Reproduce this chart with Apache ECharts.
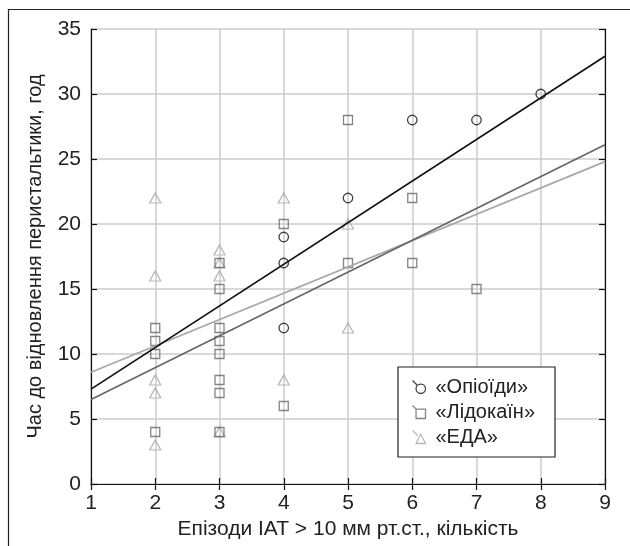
<!DOCTYPE html>
<html>
<head>
<meta charset="utf-8">
<script src="https://cdn.jsdelivr.net/npm/echarts@6/dist/echarts.min.js"></script>
<style>
  html, body { margin: 0; padding: 0; background: #fff; }
  #chart { width: 630px; height: 546px; }
</style>
</head>
<body>
<div id="chart"></div>
<script>
// points as [episodes, hours]
const opioidPoints = [[4, 19], [4, 17], [4, 12], [5, 22], [6, 28], [7, 28], [8, 30]]
const lidocainePoints = [
  [2, 12], [2, 11], [2, 10], [2, 4],
  [3, 17], [3, 15], [3, 12], [3, 11], [3, 10], [3, 8], [3, 7], [3, 4],
  [4, 20], [4, 6], [5, 28], [5, 17], [6, 22], [6, 17], [7, 15]
]
const edaPoints = [
  [2, 22], [2, 16], [2, 8], [2, 7], [2, 3],
  [3, 18], [3, 17], [3, 16], [3, 4],
  [4, 22], [4, 8], [5, 20], [5, 12]
]

// fitted lines read at the ends of the x range
const fitX = [1, 9]
const opioidFit = [7.3, 32.9]
const lidocaineFit = [6.5, 26.1]
const edaFit = [8.6, 24.8]

const seriesNames = ['«Опіоїди»', '«Лідокаїн»', '«ЕДА»']
const xTitle = 'Епізоди ІАТ > 10 мм рт.ст., кількість'
const yTitle = 'Час до відновлення перистальтики, год'

const font = '"Liberation Sans", Arial, sans-serif'
const black = '#111111'
const darkGray = '#666666'
const lightGray = '#a8a8a8'

const chart = echarts.init(document.getElementById('chart'))

const toLine = (ys) => fitX.map((x, i) => [x, ys[i]])

const baseAxis = {
  axisLine: { lineStyle: { color: black, width: 1.2 } },
  axisTick: { inside: true, length: 6, lineStyle: { color: black, width: 1.2 } }
}

const scatterStyle = (color) => ({ color: 'rgba(0,0,0,0)', borderColor: color, borderWidth: 1.3 })

chart.setOption({
  animation: false,
  textStyle: { fontFamily: font },
  graphic: [
    {
      type: 'rect',
      shape: { x: 8.5, y: 9.5, width: 700, height: 700 },
      style: { fill: 'none', stroke: '#222', lineWidth: 1.2 },
      silent: true,
      z: -10
    }
  ],
  grid: { left: 91, right: 25, top: 29, bottom: 62 },
  xAxis: [
    {
      ...baseAxis,
      type: 'value',
      min: 1,
      max: 9,
      interval: 1,
      name: xTitle,
      nameLocation: 'middle',
      nameGap: 28,
      nameTextStyle: { fontSize: 21, color: '#222', fontFamily: font },
      axisLabel: { fontSize: 21, color: '#222', margin: 9, fontFamily: font },
      splitLine: { show: true, lineStyle: { color: '#cccccc', width: 1.5 } }
    },
    {
      ...baseAxis,
      type: 'value',
      position: 'top',
      min: 1,
      max: 9,
      interval: 1,
      axisLabel: { show: false },
      splitLine: { show: false }
    }
  ],
  yAxis: [
    {
      ...baseAxis,
      type: 'value',
      min: 0,
      max: 35,
      interval: 5,
      name: yTitle,
      nameLocation: 'middle',
      nameGap: 46,
      nameTextStyle: { fontSize: 20, color: '#222', fontFamily: font },
      axisLabel: { fontSize: 21, color: '#222', margin: 10, fontFamily: font },
      splitLine: { show: true, lineStyle: { color: '#cccccc', width: 1.5 } }
    },
    {
      ...baseAxis,
      type: 'value',
      position: 'right',
      min: 0,
      max: 35,
      interval: 5,
      axisLabel: { show: false },
      splitLine: { show: false }
    }
  ],
  legend: {
    orient: 'vertical',
    left: 398,
    top: 367,
    backgroundColor: '#fff',
    borderColor: '#222',
    borderWidth: 1.2,
    borderRadius: 0,
    padding: [10, 20, 10, 12],
    itemGap: 5,
    itemWidth: 13,
    itemHeight: 13,
    textStyle: { fontSize: 20, color: '#222', fontFamily: font, lineHeight: 20, padding: [0, 0, 0, 5] },
    data: [
      {
        name: seriesNames[0],
        icon: 'path://M0,0L4.2,4.2M11,7A4,4,0,1,1,3,7A4,4,0,1,1,11,7Z',
        itemStyle: { color: 'none', borderColor: black, borderWidth: 1.3 }
      },
      {
        name: seriesNames[1],
        icon: 'path://M0,0L3,3M3,3L11,3L11,11L3,11Z',
        itemStyle: { color: 'none', borderColor: darkGray, borderWidth: 1.3 }
      },
      {
        name: seriesNames[2],
        icon: 'path://M0,0L4.5,4.5M7,3L11,11L3,11Z',
        itemStyle: { color: 'none', borderColor: lightGray, borderWidth: 1.3 }
      }
    ]
  },
  series: [
    {
      name: seriesNames[2],
      type: 'scatter',
      symbol: 'triangle',
      symbolSize: [11, 10],
      itemStyle: scatterStyle(lightGray),
      data: edaPoints
    },
    {
      name: seriesNames[1],
      type: 'scatter',
      symbol: 'rect',
      symbolSize: 9,
      itemStyle: scatterStyle(darkGray),
      data: lidocainePoints
    },
    {
      name: seriesNames[0],
      type: 'scatter',
      symbol: 'circle',
      symbolSize: 9.5,
      itemStyle: scatterStyle(black),
      data: opioidPoints
    },
    {
      name: 'edaFit',
      type: 'line',
      symbol: 'none',
      lineStyle: { color: lightGray, width: 1.7 },
      data: toLine(edaFit)
    },
    {
      name: 'lidocaineFit',
      type: 'line',
      symbol: 'none',
      lineStyle: { color: darkGray, width: 1.7 },
      data: toLine(lidocaineFit)
    },
    {
      name: 'opioidFit',
      type: 'line',
      symbol: 'none',
      lineStyle: { color: black, width: 1.7 },
      data: toLine(opioidFit)
    }
  ]
})
</script>
</body>
</html>
